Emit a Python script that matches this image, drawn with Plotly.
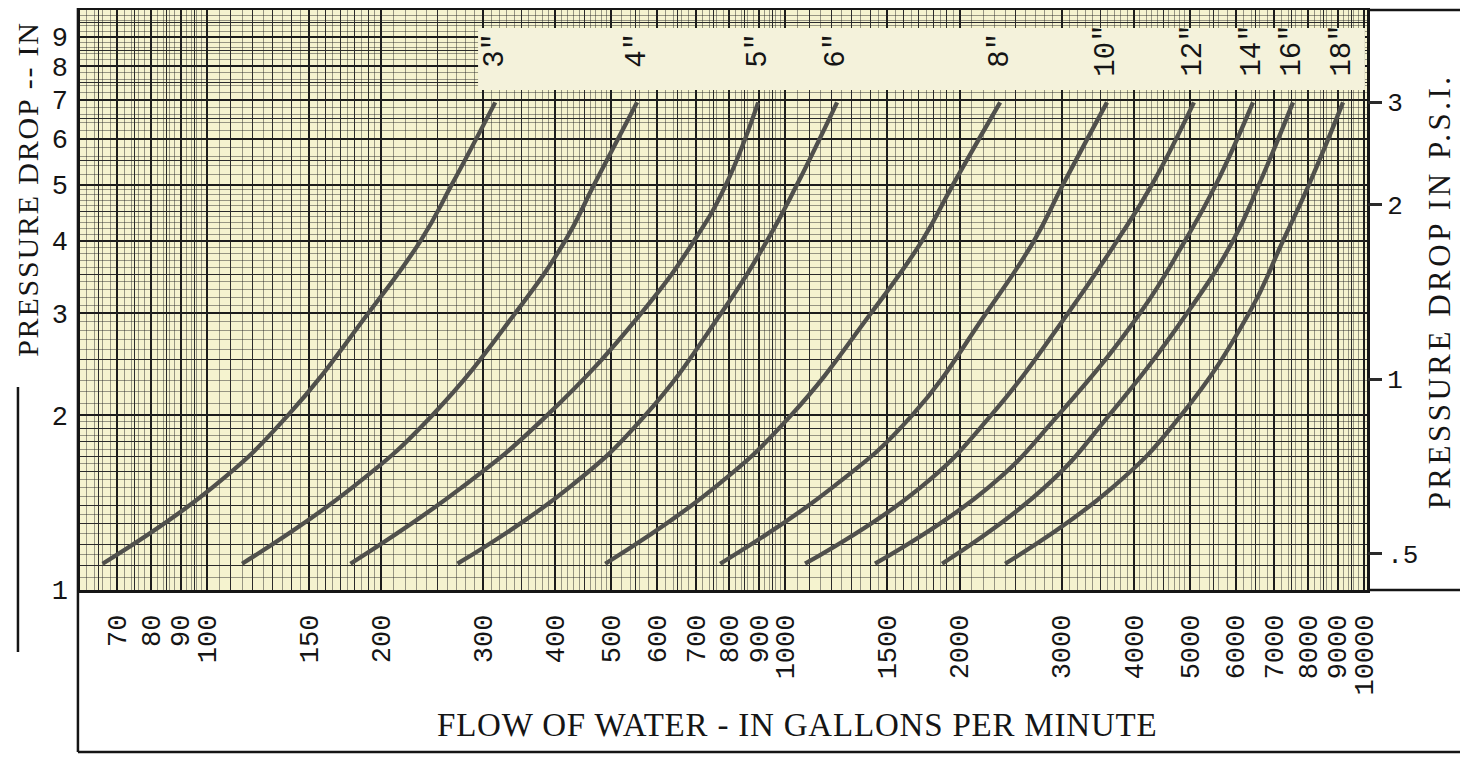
import numpy as np
import plotly.graph_objects as go

# ---------------- data ----------------
pipe_sizes = ['3"', '4"', '5"', '6"', '8"', '10"', '12"', '14"', '16"', '18"']

# pressure-drop levels (feet) at which each curve was read
drop_levels = [1.11, 1.5, 2.0, 3.0, 4.0, 5.0, 6.93]

# flow (GPM) of each curve at those pressure-drop levels
flow_3in = [66, 102, 138, 190, 234, 265, 315]
flow_4in = [115, 178, 245, 341, 416, 467, 554]
flow_5in = [177, 275, 387, 563, 695, 789, 897]
flow_6in = [271, 422, 572, 774, 929, 1047, 1228]
flow_8in = [488, 753, 1022, 1405, 1722, 1948, 2350]
flow_10in = [771, 1203, 1655, 2222, 2689, 3018, 3596]
flow_12in = [1081, 1708, 2266, 3079, 3742, 4301, 5082]
flow_14in = [1428, 2239, 2959, 4100, 4904, 5547, 6429]
flow_16in = [1865, 2799, 3625, 4944, 5937, 6583, 7539]
flow_18in = [2397, 3668, 4827, 6327, 7244, 8033, 9199]

flows = [flow_3in, flow_4in, flow_5in, flow_6in, flow_8in,
         flow_10in, flow_12in, flow_14in, flow_16in, flow_18in]

x_tick_vals = [70, 80, 90, 100, 150, 200, 300, 400, 500, 600, 700, 800, 900,
               1000, 1500, 2000, 3000, 4000, 5000, 6000, 7000, 8000, 9000, 10000]
y_tick_vals = [1, 2, 3, 4, 5, 6, 7, 8, 9]
psi_tick_vals = [0.5, 1, 2, 3]
psi_tick_text = ['.5', '1', '2', '3']
FT_PER_PSI = 2.31

X_RANGE = [1.7805, 4.0052]
Y_RANGE = [0.0, 1.0]

MONO = 'Liberation Mono'
SERIF = 'Liberation Serif'
INK = '#151515'
CURVE = '#50504c'

# ---------------- log-paper grid values ----------------
def grid_values(mants, decades, lo, hi):
    vals = []
    for d in decades:
        for m in mants:
            v = round(m * d, 6)
            if lo <= v <= hi:
                vals.append(v)
    return sorted(set(vals))

xlo, xhi = 10 ** X_RANGE[0], 10 ** X_RANGE[1]
medium_m = [1.1, 1.2, 1.3, 1.4, 1.6, 1.7, 1.8, 1.9, 2.5, 3.5, 4.5, 5.5, 6.5, 7.5, 8.5, 9.5]
fine_m = list(np.round(np.arange(1.0, 2.0, 0.05), 3)) + \
         list(np.round(np.arange(2.0, 5.0, 0.1), 3)) + \
         list(np.round(np.arange(5.0, 10.0, 0.2), 3))

x_medium = grid_values(medium_m, [10, 100, 1000], xlo, xhi)
x_fine = [v for v in grid_values(fine_m, [10, 100, 1000], xlo, xhi)
          if v not in x_medium and v not in x_tick_vals]
y_medium = grid_values(medium_m, [1], 1, 10)
y_fine = [v for v in grid_values(fine_m, [1], 1, 10)
          if v not in y_medium and v not in y_tick_vals]

fig = go.Figure()

# fine grid carrier (overlay subplot)
fig.add_trace(go.Scatter(x=[100], y=[2], xaxis='x2', yaxis='y3', mode='markers',
                         marker=dict(opacity=0), hoverinfo='skip', showlegend=False))
# psi axis carrier
fig.add_trace(go.Scatter(x=[100], y=[0.5], xaxis='x', yaxis='y2', mode='markers',
                         marker=dict(opacity=0), hoverinfo='skip', showlegend=False))

for name, fx in zip(pipe_sizes, flows):
    fig.add_trace(go.Scatter(
        x=fx, y=drop_levels, mode='lines', name=name,
        line=dict(color=CURVE, width=4.3, shape='spline', smoothing=1.3),
        hoverinfo='skip', showlegend=False))

annotations = []
for name, fx in zip(pipe_sizes, flows):
    annotations.append(dict(
        x=np.log10(fx[-1]), y=0.93, xref='x', yref='paper',
        text=name, textangle=-90, showarrow=False,
        xanchor='center', yanchor='middle',
        font=dict(family=MONO, size=29, color=INK)))

annotations.append(dict(
    x=0.557, y=-0.233, xref='paper', yref='paper',
    text='<span style="letter-spacing:0.8px">FLOW OF WATER - IN GALLONS PER MINUTE</span>',
    showarrow=False, xanchor='center', yanchor='middle',
    font=dict(family=SERIF, size=33, color=INK)))
annotations.append(dict(
    x=-0.041, y=0.692, xref='paper', yref='paper',
    text='<span style="letter-spacing:1.8px">PRESSURE DROP -- IN</span>',
    textangle=-90, showarrow=False, xanchor='center', yanchor='middle',
    font=dict(family=SERIF, size=30, color=INK)))
annotations.append(dict(
    x=1.056, y=0.515, xref='paper', yref='paper',
    text='<span style="letter-spacing:3.5px">PRESSURE DROP IN P.S.I.</span>',
    textangle=-90, showarrow=False, xanchor='center', yanchor='middle',
    font=dict(family=SERIF, size=31, color=INK)))

shapes = [
    # label band at the top of the paper
    dict(type='rect', xref='paper', yref='paper', x0=0.3093, x1=0.9984, y0=0.862, y1=0.969,
         fillcolor='#f4f2db', line=dict(width=0), layer='above'),
    # outer frame
    dict(type='line', xref='paper', yref='paper', x0=1, x1=1.08, y0=1, y1=1,
         line=dict(color=INK, width=2.5)),
    dict(type='line', xref='paper', yref='paper', x0=1, x1=1.08, y0=0, y1=0,
         line=dict(color=INK, width=2.5)),
    dict(type='line', xref='paper', yref='paper', x0=-0.0016, x1=1.08, y0=-0.2793, y1=-0.2793,
         line=dict(color=INK, width=2.5)),
    dict(type='line', xref='paper', yref='paper', x0=-0.0016, x1=-0.0016, y0=-0.2793, y1=1.02,
         line=dict(color=INK, width=2.5)),
    # dash beside left title
    dict(type='line', xref='paper', yref='paper', x0=-0.0482, x1=-0.0482, y0=-0.107, y1=0.35,
         line=dict(color=INK, width=2.5)),
]

fig.update_layout(
    width=1468, height=761,
    margin=dict(l=72, r=109, t=2, b=179, autoexpand=False),
    paper_bgcolor='white', plot_bgcolor='#f5f3cf',
    showlegend=False, hovermode=False,
    annotations=annotations, shapes=shapes,
    xaxis=dict(
        type='log', range=X_RANGE, tickmode='array', tickvals=x_tick_vals,
        ticktext=[str(v) for v in x_tick_vals], tickangle=-90,
        tickfont=dict(family=MONO, size=27, color=INK), ticks='',
        ticklabelstandoff=11,
        showgrid=True, gridcolor='#1c1c1c', gridwidth=1.6,
        minor=dict(tickmode='array', tickvals=x_medium, showgrid=True,
                   gridcolor='#2a2a2a', gridwidth=0.9, ticks=''),
        showline=True, linecolor=INK, linewidth=2.5, mirror=True,
        zeroline=False, automargin=False),
    yaxis=dict(
        type='log', range=Y_RANGE, tickmode='array', tickvals=y_tick_vals,
        ticktext=[str(v) for v in y_tick_vals],
        tickfont=dict(family=MONO, size=27, color=INK), ticks='',
        ticklabelstandoff=4,
        showgrid=True, gridcolor='#1c1c1c', gridwidth=1.6,
        minor=dict(tickmode='array', tickvals=y_medium, showgrid=True,
                   gridcolor='#2a2a2a', gridwidth=0.9, ticks=''),
        showline=True, linecolor=INK, linewidth=2.5, mirror=True,
        zeroline=False, automargin=False),
    xaxis2=dict(
        type='log', range=X_RANGE, overlaying='x', anchor='y',
        tickmode='array', tickvals=x_fine, showticklabels=False, ticks='',
        showgrid=True, gridcolor='rgba(35,35,35,0.45)', gridwidth=0.7,
        showline=False, zeroline=False),
    yaxis3=dict(
        type='log', range=Y_RANGE, overlaying='y', anchor='x',
        tickmode='array', tickvals=y_fine, showticklabels=False, ticks='',
        showgrid=True, gridcolor='rgba(35,35,35,0.45)', gridwidth=0.7,
        showline=False, zeroline=False),
    yaxis2=dict(
        type='log', overlaying='y', side='right', anchor='x',
        range=[np.log10(1 / FT_PER_PSI), np.log10(10 / FT_PER_PSI)],
        tickmode='array', tickvals=psi_tick_vals, ticktext=psi_tick_text,
        ticks='outside', ticklen=14, tickwidth=3, tickcolor='#2a2a2a',
        tickfont=dict(family=MONO, size=26, color=INK), ticklabelstandoff=0,
        showgrid=False, showline=False, zeroline=False),
)

fig.write_html('out.html')
